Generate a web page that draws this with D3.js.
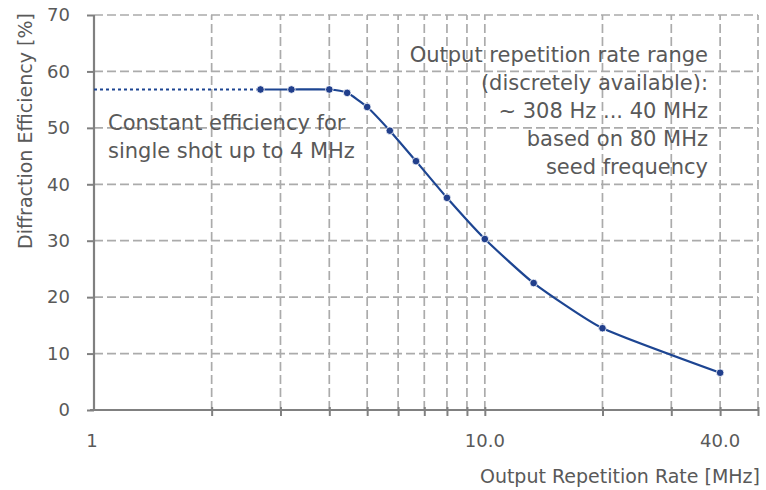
<!DOCTYPE html>
<html>
<head>
<meta charset="utf-8">
<script src="https://cdn.jsdelivr.net/npm/d3@7"></script>
<style>
  html, body { margin: 0; padding: 0; background: #fff; }
  svg { display: block; font-family: "DejaVu Sans", sans-serif; }
</style>
</head>
<body>
<svg id="chart" width="766" height="490"></svg>
<script>
// ---- data ----
const repRateMHz = [2.667, 3.2, 4, 4.444, 5, 5.714, 6.667, 8, 10, 13.333, 20, 40];
const efficiency = [56.8, 56.8, 56.8, 56.2, 53.7, 49.5, 44.1, 37.6, 30.3, 22.5, 14.5, 6.6];
const constantLevel = 56.8;
const constantFrom = 1;
const yTicks = [0, 10, 20, 30, 40, 50, 60, 70];
const xGridValues = [2, 3, 4, 5, 6, 7, 8, 9, 10, 20, 30, 40, 50];
const xTickLabels = [{v: 1, t: "1"}, {v: 10, t: "10.0"}, {v: 40, t: "40.0"}];
const leftNote = ["Constant efficiency for", "single shot up to 4 MHz"];
const rightNote = ["Output repetition rate range", "(discretely available):", "~ 308 Hz ... 40 MHz", "based on 80 MHz", "seed frequency"];
const xTitle = "Output Repetition Rate [MHz]";
const yTitle = "Diffraction Efficiency [%]";

// ---- drawing ----
const svg = d3.select("#chart");
const x = d3.scaleLog().domain([1, 50]).range([94, 758]);
const y = d3.scaleLinear().domain([0, 70]).range([410, 15]);
const textColor = "#595959";
const gridColor = "#ababab";
const axisColor = "#808080";
const lineColor = "#1d4592";

// grid
svg.append("g").selectAll("line").data(yTicks.filter(d => d > 0)).join("line")
  .attr("x1", x(1)).attr("x2", x(50))
  .attr("y1", d => y(d)).attr("y2", d => y(d))
  .attr("stroke", gridColor).attr("stroke-width", 1.7).attr("stroke-dasharray", "9,4");
svg.append("g").selectAll("line").data(xGridValues).join("line")
  .attr("x1", d => x(d)).attr("x2", d => x(d))
  .attr("y1", y(0)).attr("y2", y(70))
  .attr("stroke", gridColor).attr("stroke-width", 1.7).attr("stroke-dasharray", "9,4");

// axes
const yAxis = d3.axisLeft(y).tickValues(yTicks).tickSize(7).tickFormat(d3.format("d")).tickPadding(17);
const gy = svg.append("g").attr("transform", `translate(${x(1)},0)`).call(yAxis);
gy.select(".domain").attr("stroke", axisColor).attr("stroke-width", 2.2).attr("d", `M0,${y(70)}V${y(0)}`);
gy.selectAll(".tick line").attr("stroke", axisColor).attr("stroke-width", 2);
gy.selectAll(".tick text").attr("fill", textColor).attr("font-size", 18).attr("font-family", "DejaVu Sans");

const xAxis = d3.axisBottom(x).tickValues(xGridValues).tickSize(6).tickFormat("");
const gx = svg.append("g").attr("transform", `translate(0,${y(0)})`).call(xAxis);
gx.select(".domain").attr("stroke", axisColor).attr("stroke-width", 2.2).attr("d", `M${x(1) - 4},0H${x(50)}`);
gx.selectAll(".tick line").attr("stroke", axisColor).attr("stroke-width", 2).attr("y1", -3).attr("y2", 6);

svg.append("g").selectAll("text").data(xTickLabels).join("text")
  .attr("x", d => x(d.v) - (d.v === 1 ? 2 : 0)).attr("y", 447)
  .attr("text-anchor", "middle").attr("fill", textColor).attr("font-size", 18)
  .text(d => d.t);

// titles
svg.append("text").attr("x", 760).attr("y", 483).attr("text-anchor", "end")
  .attr("fill", textColor).attr("font-size", 19).text(xTitle);
svg.append("text").attr("transform", `translate(32,131) rotate(-90)`).attr("text-anchor", "middle")
  .attr("fill", textColor).attr("font-size", 19).text(yTitle);

// constant dotted line
svg.append("line")
  .attr("x1", x(constantFrom)).attr("x2", x(repRateMHz[0]))
  .attr("y1", y(constantLevel)).attr("y2", y(constantLevel))
  .attr("stroke", lineColor).attr("stroke-width", 2.2).attr("stroke-dasharray", "3,3");

// series line
const data = repRateMHz.map((v, i) => ({x: v, y: efficiency[i]}));
const line = d3.line().x(d => x(d.x)).y(d => y(d.y)).curve(d3.curveCardinal.tension(0.5));
svg.append("path").datum(data).attr("d", line)
  .attr("fill", "none").attr("stroke", lineColor).attr("stroke-width", 2.2);
svg.append("g").selectAll("circle").data(data).join("circle")
  .attr("cx", d => x(d.x)).attr("cy", d => y(d.y)).attr("r", 3.8)
  .attr("fill", "#213f8c").attr("stroke", "#fff").attr("stroke-width", 0.8);

// annotations
svg.append("g").selectAll("text").data(leftNote).join("text")
  .attr("x", 108).attr("y", (d, i) => 130 + i * 28)
  .attr("fill", textColor).attr("font-size", 21).text(d => d);
svg.append("g").selectAll("text").data(rightNote).join("text")
  .attr("x", 708).attr("y", (d, i) => 62 + i * 28)
  .attr("text-anchor", "end")
  .attr("fill", textColor).attr("font-size", 21).text(d => d);
</script>
</body>
</html>
